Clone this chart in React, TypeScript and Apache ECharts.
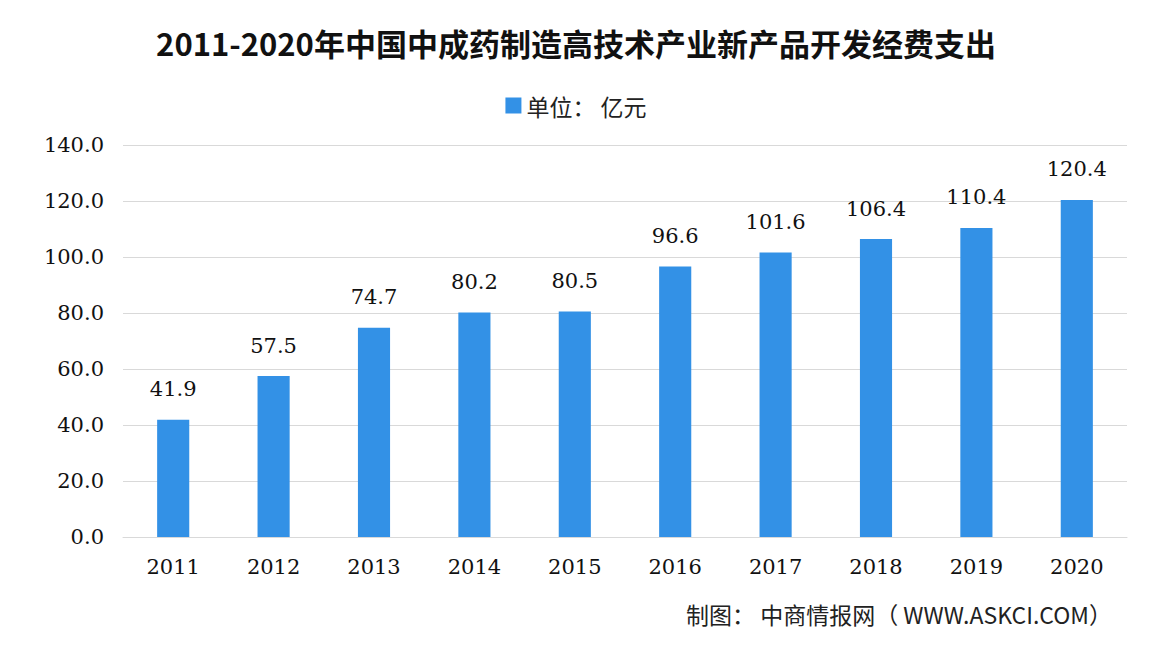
import React, { useEffect, useRef } from "react";
import * as echarts from "echarts";

const titleText = "2011-2020年中国中成药制造高技术产业新产品开发经费支出";
const legendName = "单位： 亿元";
const sourceText = "制图： 中商情报网（ WWW.ASKCI.COM）";
const years = ["2011", "2012", "2013", "2014", "2015", "2016", "2017", "2018", "2019", "2020"];
const values = [41.9, 57.5, 74.7, 80.2, 80.5, 96.6, 101.6, 106.4, 110.4, 120.4];

const CJK = "'Noto Sans CJK SC', 'Noto Sans', sans-serif";
const NUM = "'DejaVu Serif', 'Liberation Serif', serif";

export default function App() {
  const ref = useRef<HTMLDivElement>(null);
  useEffect(() => {
    if (!ref.current) return;
    const chart = echarts.init(ref.current, null, { renderer: "svg" });
    chart.setOption({
      animation: false,
      backgroundColor: "#ffffff",
      title: {
        text: titleText,
        left: "center",
        top: 22,
        textStyle: { fontFamily: CJK, fontSize: 31, fontWeight: "bold", color: "#111111" },
      },
      legend: {
        data: [{ name: legendName, icon: "rect" }],
        top: 89,
        left: "center",
        itemWidth: 16,
        itemHeight: 16,
        itemGap: 8,
        textStyle: { fontFamily: CJK, fontSize: 23, color: "#222222" },
      },
      grid: { left: 123, right: 25, top: 145, bottom: 117, containLabel: false },
      xAxis: {
        type: "category",
        data: years,
        axisLine: { show: true, lineStyle: { color: "#d9d9d9", width: 1 } },
        axisTick: { show: false },
        axisLabel: { fontFamily: NUM, fontSize: 21, color: "#111111", margin: 19 },
      },
      yAxis: {
        type: "value",
        min: 0,
        max: 140,
        interval: 20,
        axisLine: { show: false },
        axisTick: { show: false },
        splitLine: { lineStyle: { color: "#d9d9d9", width: 1 } },
        axisLabel: {
          fontFamily: NUM,
          fontSize: 21,
          color: "#111111",
          margin: 19,
          formatter: (v: number) => v.toFixed(1),
        },
      },
      series: [
        {
          name: legendName,
          type: "bar",
          data: values,
          barWidth: "32%",
          itemStyle: { color: "#3391e6" },
          label: {
            show: true,
            position: "top",
            distance: 20,
            fontFamily: NUM,
            fontSize: 21,
            color: "#111111",
            formatter: (p: any) => Number(p.value).toFixed(1),
          },
        },
      ],
      graphic: [
        {
          type: "text",
          right: 40,
          top: 602,
          style: { text: sourceText, fontFamily: CJK, fontSize: 23, fill: "#222222" },
        },
      ],
    });
    return () => chart.dispose();
  }, []);
  return <div ref={ref} style={{ width: 1152, height: 654, margin: -8 }} />;
}
